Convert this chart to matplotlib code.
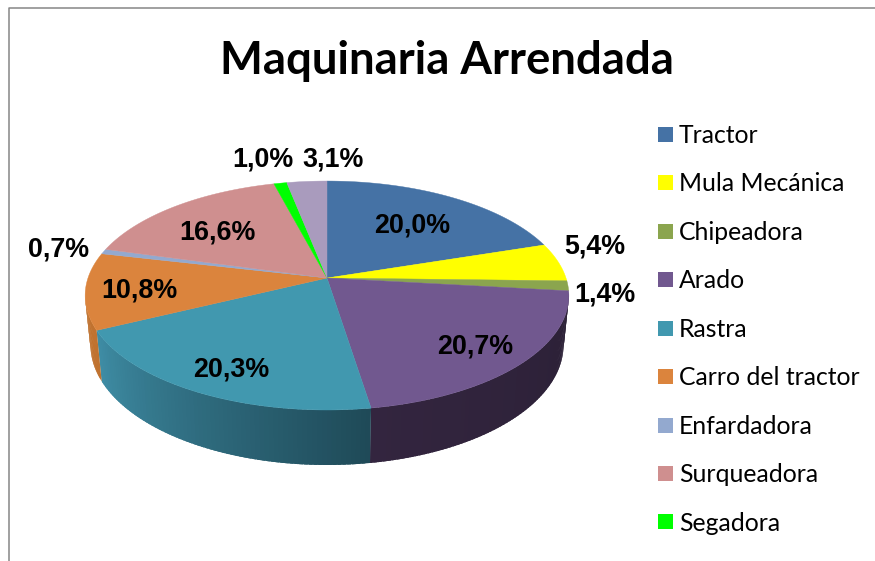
import numpy as np
import matplotlib
matplotlib.use('Agg')
import matplotlib.pyplot as plt
from matplotlib.patches import Patch

categorias = ['Tractor', 'Mula Mecánica', 'Chipeadora', 'Arado', 'Rastra',
              'Carro del tractor', 'Enfardadora', 'Surqueadora', 'Segadora', 'Otros']
valores = [20.0, 5.4, 1.4, 20.7, 20.3, 10.8, 0.7, 16.6, 1.0, 3.1]
cores = ['#4572a5', '#ffff00', '#8ba54e', '#71588f', '#4198af',
         '#db843d', '#93a9cf', '#cf8f8f', '#00ff00', '#a99bbd']
# tons da parede lateral (esquerda, direita em angulo crescente)
paredes = {3: ('#2b2036', '#33253f'), 4: ('#1f4a58', '#3f8ea6'), 5: ('#c0722f', '#c0722f')}
pos_rotulos = [(412, 225), (595, 246), (605, 294), (475, 346), (231, 369),
               (139, 290), (59, 249), (217, 232), (263, 159), (333, 159)]

CX, CY = 327, 278
RX, RY, K = 239, 111.8, 0.153
ANG_MIN, ANG_MAX = 96.5, 261


def topo(ang):
    a = np.radians(ang)
    u, v = np.sin(a), np.cos(a)
    w = 1 + K * v
    return CX + RX * u / w, CY - RY * v / w


def base(ang):
    x, y = topo(ang)
    return CX + (x - CX) * 0.978, y + 51 + (y - 330) * 0.05


def mistura(c1, c2, t):
    c1 = np.array(matplotlib.colors.to_rgb(c1))
    c2 = np.array(matplotlib.colors.to_rgb(c2))
    return c1 + (c2 - c1) * t


def main():
    fig = plt.figure(figsize=(8.75, 5.61), dpi=100)
    ax = fig.add_axes([0, 0, 1, 1])
    ax.set_xlim(0, 875)
    ax.set_ylim(561, 0)
    ax.axis('off')

    # borda do grafico, cortada pela imagem a direita e embaixo
    ax.plot([8.5, 8.5, 875], [561, 7.5, 7.5], color='#868686', lw=1.1)

    limites = np.cumsum([0] + valores) * 3.6

    # parede lateral: cada faixa passa um pouco da seguinte para nao deixar emenda
    for i, (ini, fim) in enumerate(zip(limites[:-1], limites[1:])):
        if i not in paredes:
            continue
        a0, a1 = max(ini, ANG_MIN), min(fim, ANG_MAX)
        passos = np.arange(a0, a1, 1.0).tolist() + [a1]
        for p0, p1 in zip(passos[:-1], passos[1:]):
            t = (p0 - a0) / max(a1 - a0, 1)
            cor = mistura(paredes[i][0], paredes[i][1], t)
            p2 = min(p1 + 0.8, a1)
            angs = np.linspace(p0, p2, 4)
            xt, yt = topo(angs)
            xb, yb = base(angs)
            ax.fill(np.r_[xt, xb[::-1]], np.r_[yt, yb[::-1]], facecolor=cor,
                    edgecolor='none', antialiased=True, zorder=2)

    # fatias de cima
    for i, (ini, fim) in enumerate(zip(limites[:-1], limites[1:])):
        angs = np.linspace(ini, fim, max(int(fim - ini) * 2, 4))
        xs, ys = topo(angs)
        ax.fill(np.r_[CX, xs], np.r_[CY, ys], color=cores[i], lw=0.3, zorder=3)

    for v, (x, y) in zip(valores, pos_rotulos):
        rotulo = f'{v:.1f}%'.replace('.', ',')
        ax.text(x, y, rotulo, ha='center', va='center', fontsize=19.4, fontweight='bold',
                family='Liberation Sans', color='black', zorder=5)

    ax.text(447, 61, 'Maquinaria Arrendada', ha='center', va='center', fontsize=32.8,
            fontweight='bold', family='Lato', color='black')

    # a decima categoria nao aparece na legenda do original
    alcas = [Patch(facecolor=c, edgecolor='none') for c in cores[:9]]
    ax.legend(alcas, categorias[:9], loc='upper left', bbox_to_anchor=(658 / 875, 1 - 124 / 561),
              frameon=False, prop={'family': 'Lato', 'size': 17.8}, handlelength=0.607,
              handleheight=0.557, handletextpad=0.24, labelspacing=1.03, borderpad=0, borderaxespad=0)

    fig.savefig('out.png', dpi=100)


if __name__ == '__main__':
    main()
